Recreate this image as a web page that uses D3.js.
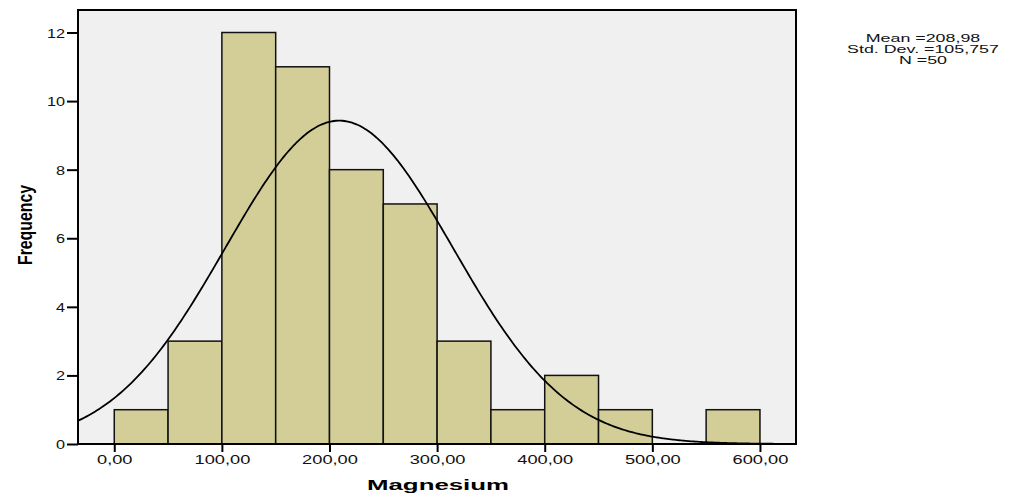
<!DOCTYPE html>
<html>
<head>
<meta charset="utf-8">
<script src="https://cdn.jsdelivr.net/npm/d3@7"></script>
<style>
 body { margin: 0; background: #fff; }
 text { font-family: "Liberation Sans", Arial, sans-serif; }
</style>
</head>
<body>
<div class="vis1"></div>
<script>
// Histogram data (bin edges and counts)
var binStarts = [0, 50, 100, 150, 200, 250, 300, 350, 400, 450, 500, 550];
var binWidth = 50;
var counts = [1, 3, 12, 11, 8, 7, 3, 1, 2, 1, 0, 1];
var xTicks = [0, 100, 200, 300, 400, 500, 600];
var yTicks = [0, 2, 4, 6, 8, 10, 12];
var statLines = ["Mean =208,98", "Std. Dev. =105,757", "N =50"];
var mean = 208.98, sd = 105.757, n = 50;

var width = 1011, height = 494;
var plot = {left: 78, right: 796, top: 10, bottom: 444};

var svg = d3.select(".vis1")
 .append("svg")
 .attr("width", width)
 .attr("height", height);

// SPSS text is drawn wide: stretch each text horizontally
function stretch(sel, k) {
 sel.each(function() {
   var w = this.getComputedTextLength();
   d3.select(this)
     .attr("textLength", w * k)
     .attr("lengthAdjust", "spacingAndGlyphs");
 });
}

var x = d3.scaleLinear()
 .domain([-33.7, 633.5])
 .range([plot.left, plot.right]);

var y = d3.scaleLinear()
 .domain([0, 12])
 .range([plot.bottom, 32.5]);

// plot background
svg.append("rect")
 .attr("x", plot.left)
 .attr("y", plot.top)
 .attr("width", plot.right - plot.left)
 .attr("height", plot.bottom - plot.top)
 .attr("fill", "#f0f0f0");

svg.append("clipPath").attr("id", "clip")
 .append("rect")
 .attr("x", plot.left)
 .attr("y", plot.top)
 .attr("width", plot.right - plot.left)
 .attr("height", plot.bottom - plot.top);

// bars
svg.selectAll("rect.bar")
 .data(binStarts.map(function(s, i) { return {x0: s, count: counts[i]}; })
   .filter(function(d) { return d.count > 0; }))
 .enter()
 .append("rect")
   .attr("class", "bar")
   .attr("x", function(d) { return x(d.x0); })
   .attr("y", function(d) { return y(d.count); })
   .attr("width", function(d) { return x(d.x0 + binWidth) - x(d.x0); })
   .attr("height", function(d) { return y(0) - y(d.count); })
   .attr("fill", "#d3ce98")
   .attr("stroke", "#111")
   .attr("stroke-width", 1.5);

// normal curve from the stated mean / sd / N
var pts = d3.range(-40, 640, 2).map(function(v) {
 var z = (v - mean) / sd;
 return [v, n * binWidth * Math.exp(-0.5 * z * z) / (sd * Math.sqrt(2 * Math.PI))];
});

svg.append("path")
 .datum(pts)
 .attr("clip-path", "url(#clip)")
 .attr("fill", "none")
 .attr("stroke", "#000")
 .attr("stroke-width", 1.8)
 .attr("d", d3.line()
   .x(function(d) { return x(d[0]); })
   .y(function(d) { return y(d[1]); })
   .curve(d3.curveBasis));

// frame
svg.append("rect")
 .attr("x", plot.left)
 .attr("y", plot.top)
 .attr("width", plot.right - plot.left)
 .attr("height", plot.bottom - plot.top)
 .attr("fill", "none")
 .attr("stroke", "#000")
 .attr("stroke-width", 2);

// axes
var fmt = function(d) { return d3.format(".2f")(d).replace(".", ","); };

var xAxis = svg.append("g")
 .attr("transform", "translate(0," + plot.bottom + ")")
 .call(d3.axisBottom(x).tickValues(xTicks).tickFormat(fmt).tickSize(8).tickPadding(2));

var yAxis = svg.append("g")
 .attr("transform", "translate(" + plot.left + ",0)")
 .call(d3.axisLeft(y).tickValues(yTicks).tickSize(11).tickPadding(2));

[xAxis, yAxis].forEach(function(g) {
 g.select(".domain").remove();
 g.selectAll("line").attr("stroke", "#000").attr("stroke-width", 2);
 g.selectAll("text").attr("font-size", "12.5px").attr("fill", "#111")
   .style("font-family", "'Liberation Sans', Arial, sans-serif");
});
xAxis.selectAll("text").attr("dy", "0").attr("y", 20);
yAxis.selectAll("text").attr("dy", "0.36em");
stretch(xAxis.selectAll("text"), 1.46);
stretch(yAxis.selectAll("text"), 1.3);

// axis titles
svg.append("text")
 .attr("x", 438)
 .attr("y", 490)
 .attr("text-anchor", "middle")
 .attr("font-size", "14px")
 .attr("font-weight", "bold")
 .attr("textLength", 142)
 .attr("lengthAdjust", "spacingAndGlyphs")
 .text("Magnesium");

svg.append("text")
 .attr("transform", "translate(32,225) rotate(-90)")
 .attr("text-anchor", "middle")
 .attr("font-size", "21px")
 .attr("font-weight", "bold")
 .attr("textLength", 80)
 .attr("lengthAdjust", "spacingAndGlyphs")
 .text("Frequency");

// stats box
var stats = svg.selectAll("text.stat")
 .data(statLines)
 .enter()
 .append("text")
   .attr("class", "stat")
   .attr("x", 923)
   .attr("y", function(d, i) { return 42 + i * 11; })
   .attr("text-anchor", "middle")
   .attr("font-size", "11.5px")
   .attr("fill", "#111")
   .text(function(d) { return d; });
stretch(stats, 1.55);
</script>
</body>
</html>
